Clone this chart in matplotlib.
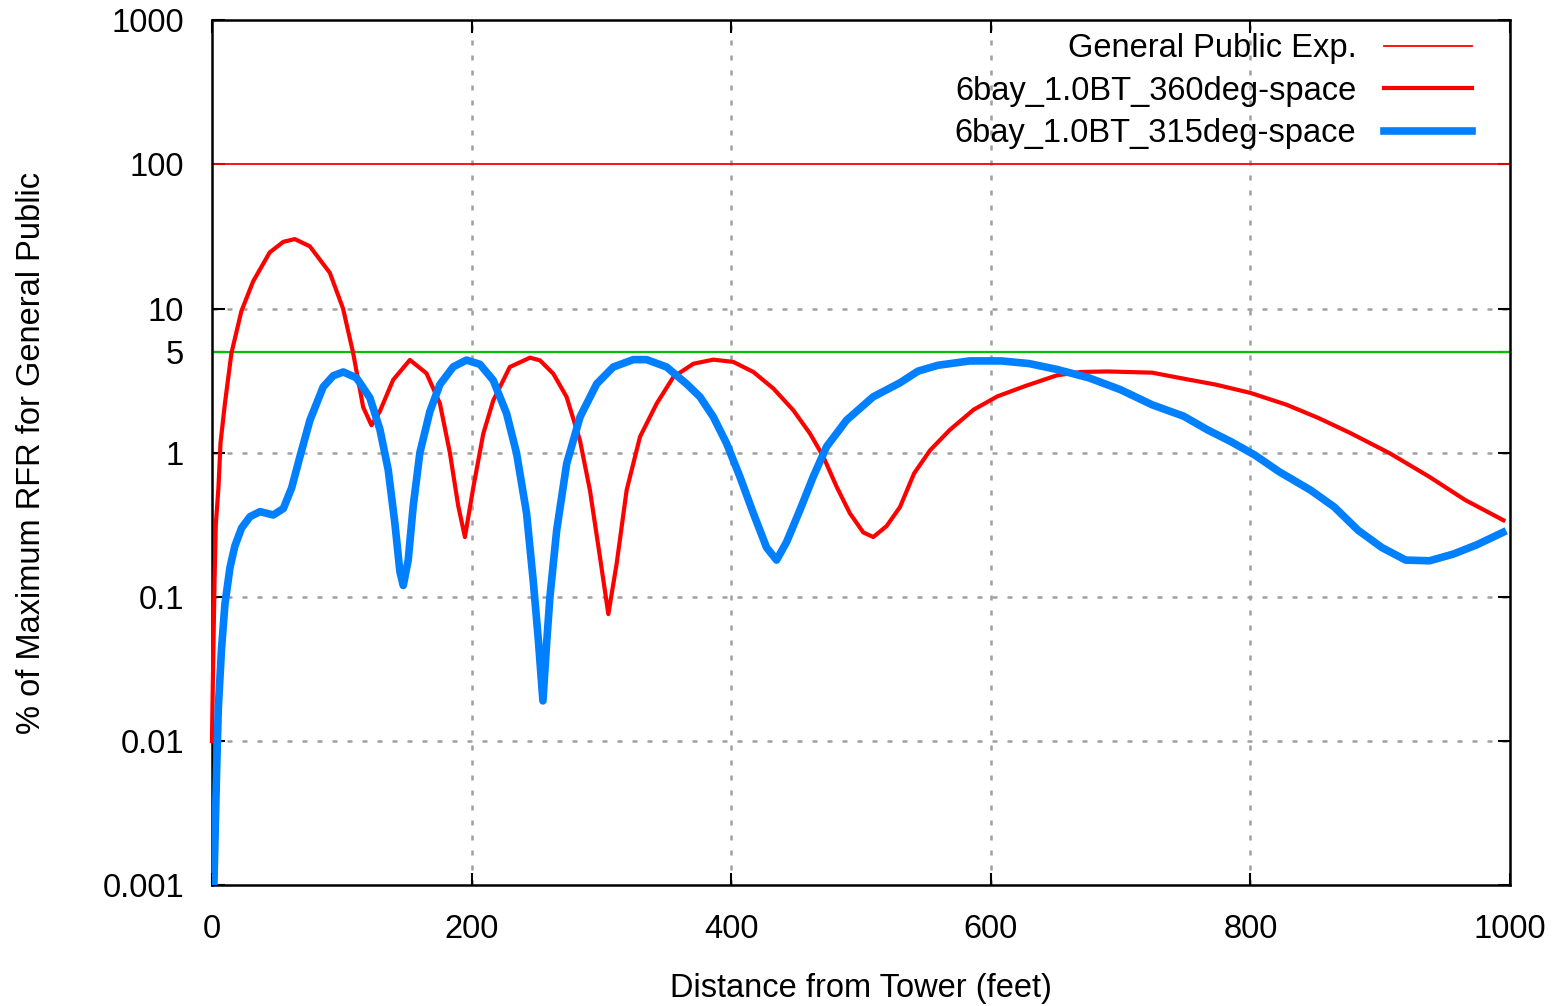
import matplotlib
matplotlib.use("Agg")
import matplotlib.pyplot as plt
import matplotlib.ticker as mticker

plt.rcParams['font.family'] = ['Liberation Sans', 'DejaVu Sans']

# exposure limit lines
gp_limit = 100
ref_level = 5

# 6bay_1.0BT_360deg-space
x_360 = [0, 0.5, 2, 3, 5, 6.6, 10, 15, 22.7, 31.7, 44.5, 55, 63.8, 75.4, 90.8, 101,
         108.8, 116.5, 122.9, 129.3, 139.6, 152.5, 165.3, 175.6, 183.3, 189.7, 194.9,
         201.3, 209, 216.7, 229.5, 245, 252.7, 263, 273.2, 283.5, 291.2, 298.9, 305.4,
         311.8, 319.5, 329.8, 342.6, 355.5, 370.9, 386.3, 401.7, 417.1, 432.5, 447.9,
         460.7, 471, 481.3, 491.5, 501.8, 509.5, 519.8, 530.1, 541, 553.3, 568.5,
         586.9, 605.2, 626.6, 651, 669.3, 690, 724.3, 748.7, 773.1, 800, 828, 852.5,
         877, 907.5, 938, 965.5, 995]
y_360 = [0.01, 0.02, 0.13, 0.32, 0.57, 1.17, 2.2, 4.9, 9.6, 15.4, 24.5, 29, 30.3, 27,
         17.7, 10, 4.9, 2.07, 1.55, 1.93, 3.2, 4.4, 3.55, 2.2, 1.0, 0.43, 0.26,
         0.57, 1.35, 2.3, 3.93, 4.56, 4.37, 3.53, 2.44, 1.22, 0.55, 0.19, 0.076,
         0.17, 0.55, 1.29, 2.19, 3.35, 4.14, 4.42, 4.26, 3.63, 2.79, 1.97,
         1.36, 0.94, 0.58, 0.38, 0.28, 0.26, 0.31, 0.42, 0.72, 1.04, 1.44,
         1.99, 2.46, 2.9, 3.44, 3.63, 3.66, 3.59, 3.26, 2.97, 2.6, 2.15, 1.74,
         1.37, 0.99, 0.68, 0.47, 0.34]

# 6bay_1.0BT_315deg-space
x_315 = [1.5, 3.6, 4.9, 7.4, 10, 13.9, 17.7, 22.8, 29.3, 37, 47.3, 55, 61.4, 67.8, 75.5,
         85.7, 93.5, 101.2, 111.4, 121.7, 129.4, 135.8, 141, 144.8, 147.4, 151.2,
         155.1, 160.2, 167.9, 175.6, 185.9, 196.1, 206.5, 216.7, 227, 234.7, 242.4,
         247.5, 251.5, 255, 258, 260.4, 265.6, 273.3, 283.6, 296.4, 309.2, 324.6, 334.9,
         350.3, 365.7, 376, 386.3, 396.5, 406.8, 417.1, 427.3, 435, 442.7, 453,
         463.2, 473.5, 488.9, 509.4, 530, 544, 559.4, 583.8, 608.2, 629.6, 651,
         675.4, 699.8, 724.3, 748.7, 767, 785.3, 803.7, 822, 846.4, 864.7, 883,
         901.3, 919.7, 938, 956.3, 974.6, 994.5]
y_315 = [0.001, 0.0063, 0.017, 0.044, 0.089, 0.16, 0.226, 0.3, 0.36, 0.39, 0.37, 0.41,
         0.57, 0.94, 1.68, 2.86, 3.42, 3.63, 3.3, 2.4, 1.45, 0.76, 0.32, 0.15, 0.12,
         0.18, 0.43, 1.0, 1.93, 2.97, 3.94, 4.39, 4.1, 3.18, 1.87, 0.99, 0.38,
         0.13, 0.05, 0.019, 0.05, 0.1, 0.29, 0.84, 1.77, 3.0, 3.93, 4.42, 4.42,
         3.93, 3.0, 2.44, 1.77, 1.16, 0.68, 0.38, 0.22, 0.18, 0.24, 0.4,
         0.68, 1.1, 1.68, 2.44, 3.05, 3.68, 4.04, 4.33, 4.33, 4.15, 3.78,
         3.31, 2.74, 2.15, 1.79, 1.44, 1.19, 0.96, 0.74, 0.55, 0.42, 0.29,
         0.22, 0.18, 0.178, 0.198, 0.23, 0.28]

x_ticks = [0, 200, 400, 600, 800, 1000]
y_ticks = [0.001, 0.01, 0.1, 1, 5, 10, 100, 1000]
y_labels = ['0.001', '0.01', '0.1', '1', '5', '10', '100', '1000']

fs = 23.5

fig = plt.figure(figsize=(15.55, 10.06), dpi=100)
ax = fig.add_axes([0.1363, 0.120, 0.8347, 0.860])

ax.set_yscale('log')
ax.set_xlim(0, 1000)
ax.set_ylim(0.001, 1000)

# grid (dotted gray) at major decades and x ticks
for xv in x_ticks[1:-1]:
    ax.axvline(xv, color='#a0a0a0', lw=1.8, ls=(0, (2, 4)), zorder=1)
for yv in [0.01, 0.1, 1, 10]:
    ax.axhline(yv, color='#a0a0a0', lw=1.8, ls=(0, (2, 4)), zorder=1)

ax.axhline(gp_limit, color='#ff0000', lw=1.3, zorder=2, label='General Public Exp.')
ax.axhline(ref_level, color='#00c000', lw=1.6, zorder=2)

ax.plot(x_360, y_360, color='#ff0000', lw=3.0, zorder=3, clip_on=False,
        label='6bay_1.0BT_360deg-space')
ax.plot(x_315, y_315, color='#0080ff', lw=5.5, zorder=4,
        label='6bay_1.0BT_315deg-space')

ax.set_xticks(x_ticks)
ax.set_yticks(y_ticks)
ax.set_yticklabels(y_labels)
ax.yaxis.set_minor_locator(mticker.NullLocator())
ax.tick_params(which='both', direction='in', length=9, width=1.5,
               top=True, right=True, labelsize=fs, colors='black')
ax.tick_params(axis='x', pad=21)
ax.tick_params(axis='y', pad=20)

for s in ax.spines.values():
    s.set_linewidth(1.8)
    s.set_color('black')

ax.set_xlabel('Distance from Tower (feet)', fontsize=fs, labelpad=20)
ax.set_ylabel('% of Maximum RFR for General Public', fontsize=fs, labelpad=40)

leg = ax.legend(loc='upper right', frameon=False, markerfirst=False, fontsize=fs,
                handlelength=2.7, handletextpad=0.85, labelspacing=0.35,
                borderaxespad=0.0, bbox_to_anchor=(0.981, 1.0))

fig.savefig('out.png', dpi=100)
